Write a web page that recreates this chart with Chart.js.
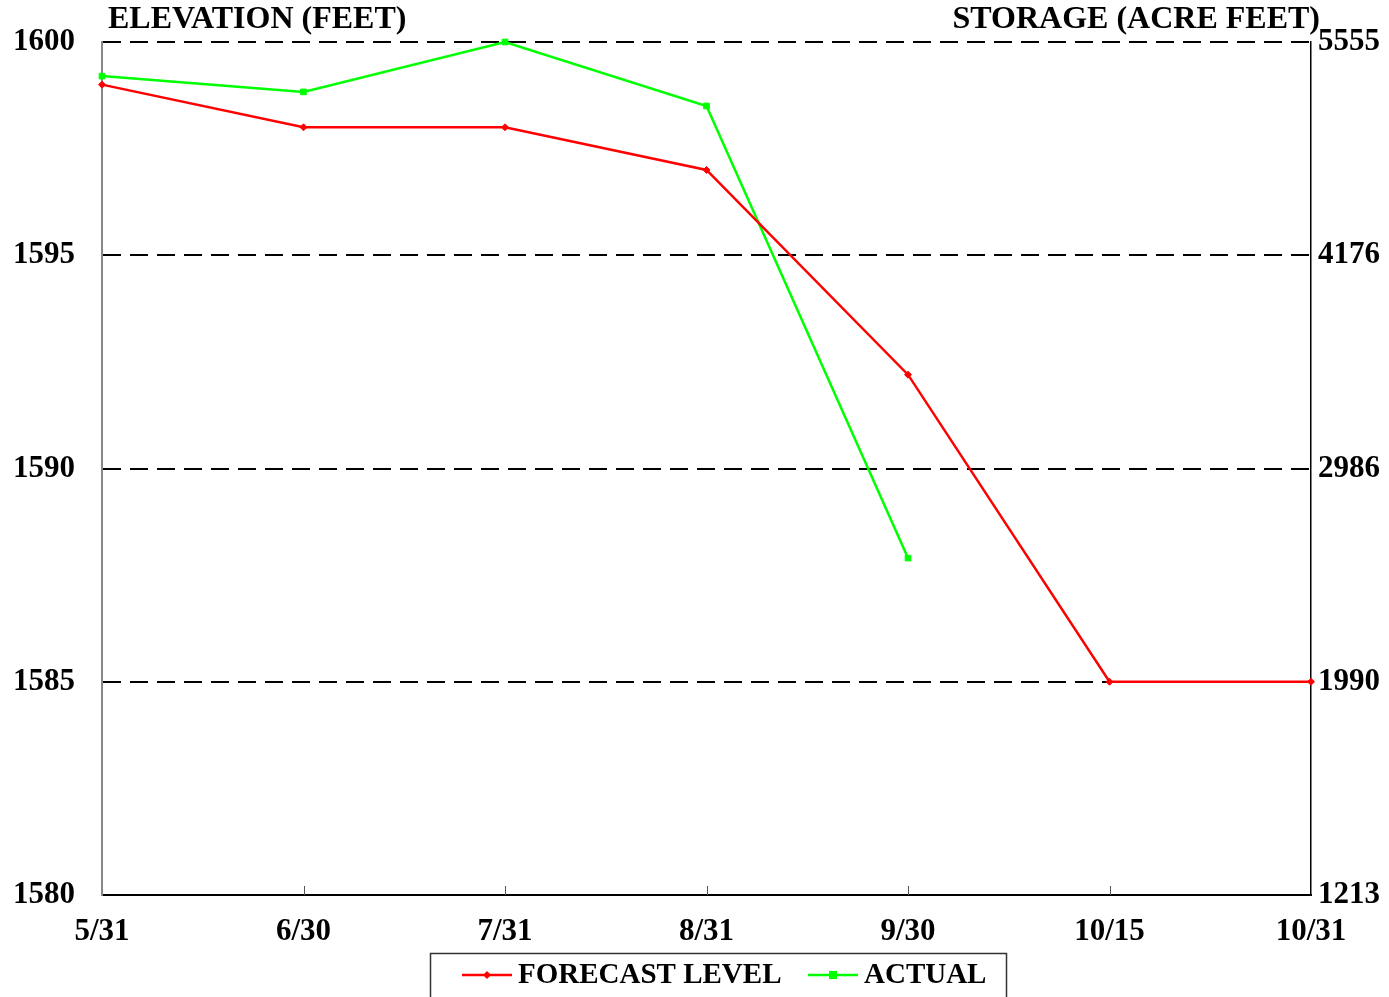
<!DOCTYPE html>
<html lang="en">
<head>
<meta charset="UTF-8">
<title>Elevation / Storage</title>
<script src="https://cdn.jsdelivr.net/npm/chart.js"></script>
<style>
  body { margin: 0; background: #fff; }
  #wrap { width: 1389px; height: 997px; }
</style>
</head>
<body>
<div id="wrap"><canvas id="chart" width="1389" height="997"></canvas></div>
<script>
// dates along the bottom
var dates = ['5/31', '6/30', '7/31', '8/31', '9/30', '10/15', '10/31'];
// elevation in feet
var forecastLevel = [1599, 1598, 1598, 1597, 1592.2, 1585, 1585];
var actualLevel = [1599.2, 1598.83, 1600, 1598.5, 1587.9, null, null];
// right axis: storage matching the elevation ticks
var elevationTicks = [1580, 1585, 1590, 1595, 1600];
var storageTicks = [1213, 1990, 2986, 4176, 5555];

var FONT = '"Liberation Serif", "Times New Roman", serif';
var tickFont = { family: FONT, size: 31, weight: 'bold' };

// titles, inward x ticks and the boxed legend
var extras = {
    id: 'extras',
    afterDraw: function (chart) {
        var c = chart.ctx, area = chart.chartArea, xs = chart.scales.x;
        c.save();
        c.fillStyle = '#000';
        c.font = 'bold 32px ' + FONT;
        c.textBaseline = 'middle';
        c.textAlign = 'left';
        c.fillText('ELEVATION (FEET)', 108, 20);
        c.textAlign = 'right';
        c.fillText('STORAGE (ACRE FEET)', 1320, 20);

        // small tick marks pointing up into the plot
        c.strokeStyle = '#555';
        c.lineWidth = 1;
        for (var i = 1; i < dates.length - 1; i++) {
            var px = Math.round(xs.getPixelForValue(i)) + 0.5;
            c.beginPath();
            c.moveTo(px, area.bottom);
            c.lineTo(px, area.bottom - 9);
            c.stroke();
        }

        // legend box
        c.strokeStyle = '#333';
        c.lineWidth = 1.5;
        c.strokeRect(430.5, 953.5, 576, 60);
        c.font = 'bold 29px ' + FONT;
        var items = [
            { ds: chart.data.datasets[0], x: 462 },
            { ds: chart.data.datasets[1], x: 808 }
        ];
        items.forEach(function (it) {
            var y = 975;
            c.strokeStyle = it.ds.borderColor;
            c.lineWidth = 2.5;
            c.beginPath();
            c.moveTo(it.x, y);
            c.lineTo(it.x + 50, y);
            c.stroke();
            c.fillStyle = it.ds.borderColor;
            var mx = it.x + 25;
            if (it.ds.pointStyle === 'rect') {
                c.fillRect(mx - 4, y - 4, 8, 8);
            } else {
                c.beginPath();
                c.moveTo(mx, y - 4); c.lineTo(mx + 4, y);
                c.lineTo(mx, y + 4); c.lineTo(mx - 4, y);
                c.closePath(); c.fill();
            }
            c.fillStyle = '#000';
            c.textAlign = 'left';
            c.fillText(it.ds.label, it.x + 56, y + 1);
        });
        c.restore();
    }
};

function noPad(s) {
    s.paddingTop = 0;
    s.paddingBottom = 0;
}

new Chart(document.getElementById('chart').getContext('2d'), {
    type: 'line',
    data: {
        labels: dates,
        datasets: [{
            label: 'FORECAST LEVEL',
            data: forecastLevel,
            borderColor: '#ff0000',
            backgroundColor: '#ff0000',
            borderWidth: 2.5,
            pointStyle: 'rectRot',
            pointRadius: 3.5,
            pointBorderWidth: 1,
            tension: 0,
            clip: 10
        }, {
            label: 'ACTUAL',
            data: actualLevel,
            borderColor: '#00ff00',
            backgroundColor: '#00ff00',
            borderWidth: 2.5,
            pointStyle: 'rect',
            pointRadius: 4,
            pointBorderWidth: 1,
            tension: 0,
            spanGaps: false,
            clip: 10
        }]
    },
    options: {
        responsive: false,
        animation: false,
        layout: { padding: { top: 42, bottom: 50, left: 0, right: 0 } },
        plugins: {
            legend: { display: false },
            tooltip: { enabled: false }
        },
        scales: {
            x: {
                offset: false,
                grid: { display: false, drawTicks: false },
                border: { display: true, color: '#000', width: 2 },
                ticks: { font: tickFont, color: '#000', padding: 18, maxRotation: 0, autoSkip: false },
                afterFit: function (s) { s.height = 52; }
            },
            y: {
                position: 'left',
                min: 1580,
                max: 1600,
                afterBuildTicks: function (s) {
                    s.ticks = elevationTicks.map(function (v) { return { value: v }; });
                },
                grid: {
                    color: function (ctx) {
                        return ctx.tick && ctx.tick.value === 1580 ? 'rgba(0,0,0,0)' : '#000';
                    },
                    lineWidth: 2,
                    drawTicks: false
                },
                border: { display: true, color: '#888', width: 2, dash: [18, 9] },
                ticks: {
                    font: tickFont,
                    color: '#000',
                    padding: 27,
                    callback: function (v) { return String(v); }
                },
                afterFit: function (s) { s.width = 102; noPad(s); }
            },
            y2: {
                position: 'right',
                min: 1580,
                max: 1600,
                afterBuildTicks: function (s) {
                    s.ticks = elevationTicks.map(function (v) { return { value: v }; });
                },
                grid: { drawOnChartArea: false, drawTicks: false },
                border: { display: true, color: '#000', width: 1.5 },
                ticks: {
                    font: tickFont,
                    color: '#000',
                    padding: 7,
                    callback: function (v) {
                        var i = elevationTicks.indexOf(v);
                        return i >= 0 ? String(storageTicks[i]) : '';
                    }
                },
                afterFit: function (s) { s.width = 78; noPad(s); }
            }
        }
    },
    plugins: [extras]
});
</script>
</body>
</html>
